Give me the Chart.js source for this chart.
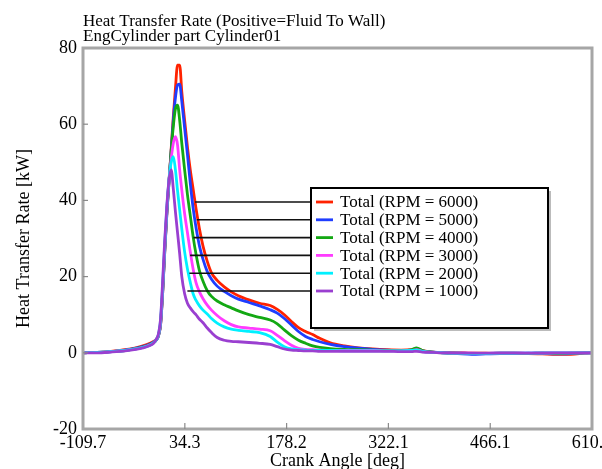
<!DOCTYPE html>
<html><head><meta charset="utf-8">
<script src="https://cdn.jsdelivr.net/npm/chart.js@4"></script>
<style>html,body{margin:0;padding:0;overflow:hidden;background:#fff}canvas{display:block}</style>
</head><body><canvas id="c" width="620" height="469"></canvas>
<script>
const titleLines = ['Heat Transfer Rate (Positive=Fluid To Wall)', 'EngCylinder part Cylinder01'];
const xAxisTitle = 'Crank Angle [deg]';
const yAxisTitle = 'Heat Transfer Rate [kW]';
const xTickLabels = ['-109.7', '34.3', '178.2', '322.1', '466.1', '610.0'];
const yTickValues = [-20, 0, 20, 40, 60, 80];

const angles = [-109.7, -90, -70, -50, -35, -25, -15, -10, -6, -3, 0, 3, 6, 9, 12, 15, 18, 21, 24, 27, 30, 34, 38, 42, 46, 50, 55, 60, 66, 72, 80, 90, 100, 110, 125, 140, 155, 165, 175, 185, 195, 205, 215, 225, 240, 260, 280, 300, 320, 340, 355, 362, 370, 385, 400, 420, 440, 460, 480, 500, 520, 540, 560, 580, 600, 610];

const rpm6000 = [0.0, 0.1, 0.4, 0.8, 1.3, 1.8, 2.5, 3.0, 3.5, 4.6, 7.3, 16, 27, 37, 45, 53.5, 62, 69.5, 75.5, 75.5, 68.5, 61, 54, 48, 43, 38, 32.5, 28, 24, 21, 19, 17.3, 16.0, 15.0, 13.9, 13.0, 12.4, 11.4, 10.0, 8.2, 6.6, 5.6, 4.8, 3.8, 2.6, 1.8, 1.3, 1.0, 0.8, 0.7, 0.8, 1.1, 0.6, 0.2, 0.1, 0.0, -0.1, -0.1, -0.2, -0.2, -0.2, -0.3, -0.4, -0.4, -0.1, 0.0];
const rpm5000 = [0.0, 0.1, 0.3, 0.7, 1.2, 1.6, 2.3, 2.8, 3.4, 4.4, 7.5, 16, 27, 37, 45, 53, 61, 67, 70.3, 70.5, 66, 59, 52, 44.5, 38, 33, 28, 24.5, 21.3, 19.3, 17.5, 16.1, 15.0, 14.1, 13.2, 12.3, 11.3, 10.4, 9.0, 7.3, 5.6, 4.3, 3.5, 2.9, 2.2, 1.6, 1.2, 0.9, 0.7, 0.6, 0.7, 1.0, 0.5, 0.2, 0.0, -0.2, -0.4, -0.3, -0.2, -0.2, -0.1, -0.2, -0.3, -0.2, 0.0, 0.0];
const rpm4000 = [0.0, 0.1, 0.3, 0.6, 1.1, 1.5, 2.2, 2.7, 3.4, 4.5, 7.8, 16.5, 27.5, 37.5, 45.5, 53, 59.5, 64, 65, 61, 55, 48, 41.5, 36, 30.5, 26, 21.5, 18.8, 16.3, 14.8, 13.6, 12.6, 11.8, 11.0, 10.0, 9.3, 8.6, 7.6, 6.0, 4.5, 3.3, 2.5, 1.8, 1.4, 1.1, 0.9, 0.8, 0.7, 0.6, 0.6, 0.8, 1.3, 0.6, 0.2, 0.0, -0.1, -0.2, -0.2, -0.1, -0.1, -0.2, -0.1, -0.2, -0.1, 0.0, 0.0];
const rpm3000 = [0.0, 0.1, 0.3, 0.6, 1.0, 1.4, 2.1, 2.6, 3.5, 4.6, 8, 17, 28, 38, 45.5, 51, 55, 56.7, 54.5, 48, 42.7, 36.5, 31.5, 26.5, 22, 18.5, 16, 14.2, 12.5, 11.2, 9.8, 8.4, 7.4, 6.8, 6.5, 6.2, 5.8, 4.6, 3.2, 2.0, 1.2, 0.9, 0.8, 0.7, 0.6, 0.6, 0.6, 0.6, 0.5, 0.5, 0.6, 0.8, 0.4, 0.1, 0.0, -0.1, -0.1, -0.2, -0.1, -0.1, -0.1, -0.1, 0.0, 0.0, 0.0, 0.0];
const rpm2000 = [0.0, 0.1, 0.3, 0.6, 1.0, 1.4, 2.0, 2.6, 3.5, 4.8, 8.5, 18, 29, 38.5, 45.5, 50, 51.5, 48, 42.5, 37.5, 32.5, 26.5, 22, 18.5, 15.5, 13.8, 12.3, 11.2, 10.2, 9.0, 7.8, 6.8, 6.2, 5.9, 5.6, 5.3, 4.3, 2.8, 1.6, 1.0, 0.8, 0.7, 0.6, 0.6, 0.6, 0.5, 0.5, 0.5, 0.5, 0.5, 0.6, 0.7, 0.4, 0.1, 0.0, -0.1, -0.2, -0.2, -0.1, -0.1, -0.1, 0.0, 0.0, 0.0, 0.0, 0.0];
const rpm1000 = [0.0, 0.0, 0.2, 0.5, 0.9, 1.3, 1.9, 2.5, 3.6, 5.0, 9, 19, 30, 39, 45.5, 48, 43, 37, 31.5, 26, 20, 15.5, 13, 11.8, 10.8, 10, 8.8, 7.9, 6.5, 5.3, 4.0, 3.3, 3.0, 2.9, 2.7, 2.5, 2.2, 1.6, 1.0, 0.7, 0.6, 0.5, 0.5, 0.4, 0.4, 0.4, 0.4, 0.4, 0.4, 0.3, 0.3, 0.4, 0.2, 0.1, 0.0, 0.0, -0.1, -0.1, 0.0, 0.0, -0.1, 0.0, 0.0, 0.0, 0.0, 0.0];

const seriesNames = ['Total (RPM = 6000)', 'Total (RPM = 5000)', 'Total (RPM = 4000)', 'Total (RPM = 3000)', 'Total (RPM = 2000)', 'Total (RPM = 1000)'];
const seriesValues = [rpm6000, rpm5000, rpm4000, rpm3000, rpm2000, rpm1000];
const seriesColors = ['#ff2200', '#1f3dff', '#13a813', '#ff3cff', '#00f0ff', '#9a3fd0'];
const leaderStartAngles = [48.8, 51.2, 46.4, 41.7, 40.7, 37.9];

const FONT = '"Liberation Serif", "Times New Roman", serif';

const datasets = seriesValues.map((vals, i) => ({
  label: seriesNames[i],
  data: angles.map((a, j) => ({x: a, y: vals[j]})),
  borderColor: seriesColors[i],
  backgroundColor: seriesColors[i],
  borderWidth: 2.8,
  pointRadius: 0,
  cubicInterpolationMode: 'monotone',
  fill: false,
  order: seriesValues.length - i
}));

const decor = {
  id: 'decor',
  afterDraw(chart) {
    const ctx = chart.ctx;
    const ca = chart.chartArea;
    const xs = chart.scales.x, ys = chart.scales.y;
    ctx.save();
    // title
    ctx.fillStyle = '#000';
    ctx.font = '17px ' + FONT;
    ctx.textBaseline = 'alphabetic';
    ctx.textAlign = 'left';
    ctx.fillText(titleLines[0], ca.left, 26);
    ctx.fillText(titleLines[1], ca.left, 41);
    // frame
    ctx.strokeStyle = '#a6a6a6';
    ctx.lineWidth = 3;
    ctx.strokeRect(ca.left, ca.top, ca.right - ca.left, ca.bottom - ca.top);
    // inward ticks
    ctx.lineWidth = 1.2;
    ctx.strokeStyle = '#8a8a8a';
    yTickValues.slice(1, -1).forEach(v => {
      const y = ys.getPixelForValue(v);
      ctx.beginPath(); ctx.moveTo(ca.left, y); ctx.lineTo(ca.left + 5, y); ctx.stroke();
    });
    xTickLabels.slice(1, -1).forEach(s => {
      const x = xs.getPixelForValue(parseFloat(s));
      ctx.beginPath(); ctx.moveTo(x, ca.bottom); ctx.lineTo(x, ca.bottom - 6); ctx.stroke();
    });
    // legend
    const bx = ca.left + 228, by = ca.top + 140, bw = 237, bh = 140;
    const rowY = i => by + 14 + i * 17.8;
    // leader lines
    ctx.strokeStyle = '#111';
    ctx.lineWidth = 1.6;
    seriesNames.forEach((n, i) => {
      const x0 = xs.getPixelForValue(leaderStartAngles[i]);
      ctx.beginPath(); ctx.moveTo(x0, rowY(i)); ctx.lineTo(bx, rowY(i)); ctx.stroke();
    });
    ctx.fillStyle = '#bbb';
    ctx.fillRect(bx + 3, by + 3, bw, bh);
    ctx.fillStyle = '#fff';
    ctx.fillRect(bx, by, bw, bh);
    ctx.strokeStyle = '#000';
    ctx.lineWidth = 2;
    ctx.strokeRect(bx, by, bw, bh);
    ctx.font = '17px ' + FONT;
    ctx.textBaseline = 'middle';
    seriesNames.forEach((n, i) => {
      const y = rowY(i);
      ctx.strokeStyle = seriesColors[i];
      ctx.lineWidth = 2.8;
      ctx.beginPath(); ctx.moveTo(bx + 5, y); ctx.lineTo(bx + 22, y); ctx.stroke();
      ctx.fillStyle = '#000';
      ctx.fillText(n, bx + 29, y + 1);
    });
    ctx.restore();
  }
};

new Chart(document.getElementById('c'), {
  type: 'line',
  data: {datasets},
  options: {
    responsive: false,
    animation: false,
    devicePixelRatio: 1,
    layout: {padding: {top: 48, left: 0, right: 28, bottom: 0}},
    plugins: {legend: {display: false}, tooltip: {enabled: false}, title: {display: false}},
    scales: {
      x: {
        type: 'linear', min: -109.7, max: 610.0,
        grid: {display: false, drawTicks: false},
        border: {display: false},
        afterBuildTicks: s => { s.ticks = xTickLabels.map(t => ({value: parseFloat(t)})); },
        afterFit: s => { s.height = 40; },
        ticks: {
          autoSkip: false, maxRotation: 0, padding: 3, color: '#000',
          font: {family: FONT, size: 18},
          callback: (v, i) => xTickLabels[i]
        },
        title: {display: true, text: xAxisTitle, color: '#000', font: {family: FONT, size: 18}, padding: {top: 0, bottom: -3}}
      },
      y: {
        type: 'linear', min: -20, max: 80,
        grid: {display: false, drawTicks: false},
        border: {display: false},
        afterBuildTicks: s => { s.ticks = yTickValues.map(v => ({value: v})); },
        afterFit: s => { s.width = 83; },
        ticks: {padding: 6, color: '#000', font: {family: FONT, size: 18}},
        title: {display: true, text: yAxisTitle, color: '#000', font: {family: FONT, size: 18}, padding: {top: 13, bottom: 0}}
      }
    }
  },
  plugins: [decor]
});
</script>
</body></html>
